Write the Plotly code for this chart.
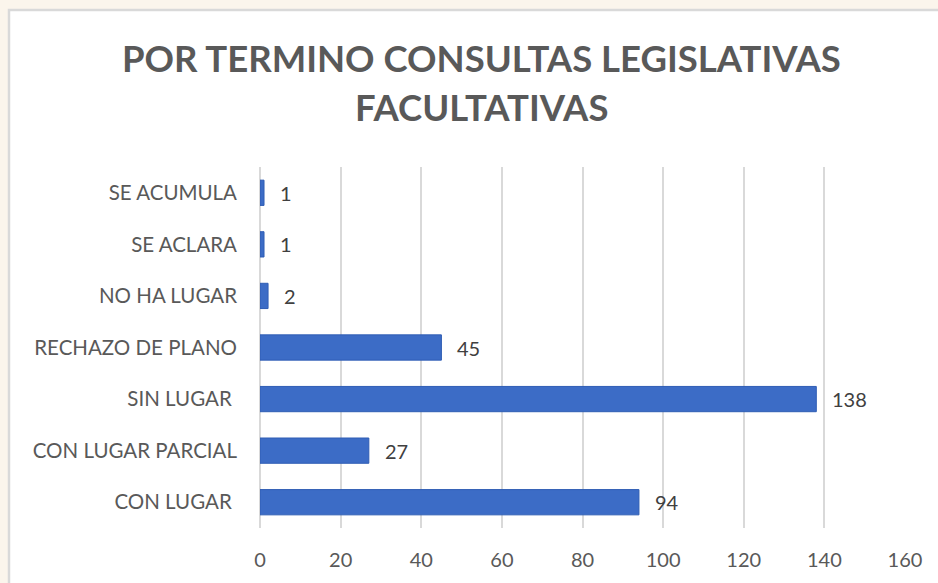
import plotly.graph_objects as go

categories = ["CON LUGAR ", "CON LUGAR PARCIAL", "SIN LUGAR ", "RECHAZO DE PLANO", "NO HA LUGAR", "SE ACLARA", "SE ACUMULA"]
values = [94, 27, 138, 45, 2, 1, 1]
x_ticks = [0, 20, 40, 60, 80, 100, 120, 140, 160]
title_lines = ["POR TERMINO CONSULTAS LEGISLATIVAS", "FACULTATIVAS"]

W, H = 938, 583
L, R, T, B = 260, 33, 167, 55
pw, ph = W - L - R, H - T - B
FONT = "Lato, Open Sans, sans-serif"

def px2x(px):
    return (px - L) / pw

def py2y(py):
    return (H - B - py) / ph

fig = go.Figure()
fig.add_trace(go.Bar(
    y=categories, x=values, orientation="h",
    marker=dict(color="#3c6cc6", line=dict(color="#2f5db4", width=1)),
    width=0.49, hoverinfo="x+y",
))

annotations = []
for c, v in zip(categories, values):
    annotations.append(dict(x=v, y=c, xref="x", yref="y", text=str(v), showarrow=False,
                            xanchor="left", yanchor="middle", xshift=14,
                            font=dict(family=FONT, size=20, color="#404040")))
for line, py in zip(title_lines, [58, 107]):
    annotations.append(dict(x=px2x(481), y=py2y(py), xref="paper", yref="paper", text=line,
                            showarrow=False, xanchor="center", yanchor="middle",
                            font=dict(family=FONT, size=36.5, color="#595959", weight="bold")))

fig.update_layout(
    width=W, height=H,
    margin=dict(l=L, r=R, t=T, b=B, autoexpand=False),
    paper_bgcolor="#fbf5ec",
    plot_bgcolor="rgba(0,0,0,0)",
    showlegend=False,
    annotations=annotations,
    xaxis=dict(range=[0, 160], tickvals=x_ticks, showgrid=True, gridcolor="#d9d9d9", gridwidth=1.5,
               zeroline=True, zerolinecolor="#d9d9d9", zerolinewidth=1.5, showline=False,
               tickfont=dict(family=FONT, size=20, color="#595959"),
               ticks="", ticklabelstandoff=18, fixedrange=True, automargin=False),
    yaxis=dict(range=[-0.5, 6.5], showgrid=False, zeroline=False, showline=False, ticks="",
               tickfont=dict(family=FONT, size=20.5, color="#595959"),
               ticklabelstandoff=22, fixedrange=True, automargin=False),
    shapes=[dict(type="rect", xref="paper", yref="paper", layer="below",
                 x0=px2x(9), x1=px2x(960), y0=py2y(600), y1=py2y(10),
                 fillcolor="#ffffff", line=dict(color="#d9d9d9", width=2.5))],
)

fig.write_html("out.html", config={"displayModeBar": False},
               post_script="document.body.style.margin='0';document.body.style.overflow='hidden';")
